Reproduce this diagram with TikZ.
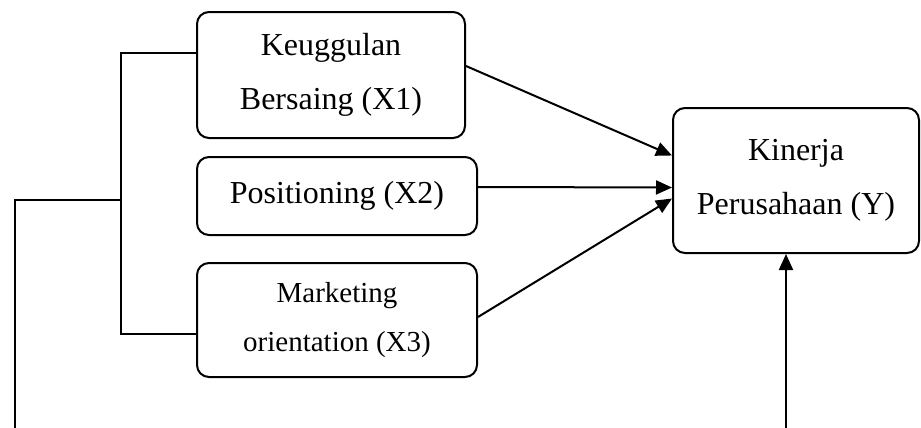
\documentclass[tikz,border=0pt]{standalone}
\usepackage{fontspec}
\setmainfont{Liberation Serif}
\usepackage{tikz}
\usetikzlibrary{arrows.meta, positioning, calc}

\begin{document}
\begin{tikzpicture}[x=0.5pt, y=-0.5pt]
            % Define styles
            \tikzstyle{var} = [rectangle, draw, line width=1pt, rounded corners=6pt, align=center, inner sep=2pt, font=\fontsize{16}{27}\selectfont]
            \tikzstyle{line} = [draw, line width=1pt]
            \tikzstyle{arrow} = [line, -{Triangle[length=8pt, width=7pt]}]
            
            \useasboundingbox (0,0) rectangle (921,428);
            
            % Independent variables
            \node[var, minimum width=134pt, minimum height=63pt] (X1) at (331,75) {Keuggulan\\Bersaing (X1)};
            \node[var, minimum width=140pt, minimum height=39pt] (X2) at (337,196) {Positioning (X2)};
            \node[var, minimum width=140pt, minimum height=57pt, font=\fontsize{14.5}{24.5}\selectfont] (X3) at (337,320) {Marketing\\orientation (X3)};
            
            % Dependent variable
            \node[var, minimum width=123pt, minimum height=72.5pt] (Y) at (796,180.5) {Kinerja\\Perusahaan (Y)};
            
            % Bracket joining X1 and X3
            \draw[line] ([yshift=11pt]X1.west) -- ++(-37.5pt,0) coordinate (bustop) |- ([yshift=-7pt]X3.west);
            
            % Line leaving the bracket, running off the bottom
            \coordinate (busmid) at (122,200);
            \coordinate (leftend) at (15,428);
            \draw[line] (busmid) -| (leftend);
            
            % Arrows into Y
            \draw[arrow] ([yshift=4.5pt]X1.east) -- ([yshift=12.5pt]Y.west);
            \draw[arrow] ([yshift=4.5pt]X2.east) -- ([yshift=-3.5pt]Y.west);
            \draw[arrow] ([yshift=1.5pt]X3.east) -- ([yshift=-9pt]Y.west);
            
            % Arrow from below
            \coordinate (Ybottom) at (786,428);
            \draw[arrow] (Ybottom) -- (Ybottom |- Y.south);
\end{tikzpicture}
\end{document}
